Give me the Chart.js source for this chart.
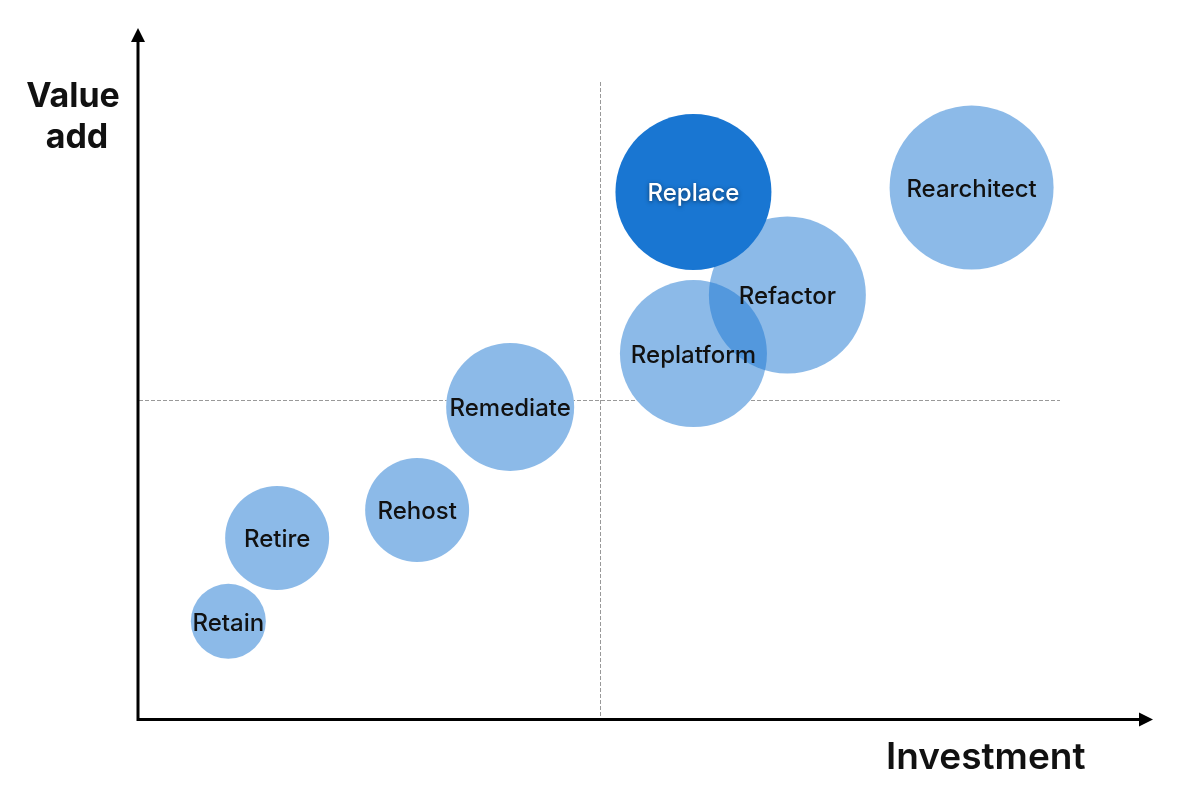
<!DOCTYPE html>
<html>
<head>
<meta charset="utf-8">
<script src="https://cdn.jsdelivr.net/npm/chart.js@4.4.0/dist/chart.umd.min.js"></script>
<style>
  html, body { margin: 0; padding: 0; background: #ffffff; }
  #wrap { width: 1200px; height: 800px; position: relative; }
</style>
</head>
<body>
<div id="wrap"><canvas id="c" width="1200" height="800"></canvas></div>
<script>
// ---- Data ----
const strategies = ['Retain', 'Retire', 'Rehost', 'Remediate', 'Replatform', 'Refactor', 'Replace', 'Rearchitect'];
const investment = [0.97, 1.50, 3.02, 4.03, 6.02, 7.04, 6.02, 9.04];
const valueAdd   = [1.52, 2.83, 3.27, 4.89, 5.73, 6.65, 8.27, 8.34];
const effort     = [37.5, 52, 52, 64, 73.5, 78.5, 78, 82];
const highlighted = ['Replace'];
const xAxisTitle = 'Investment';
const yAxisTitleLines = ['Value', 'add'];
const axisMin = 0, axisMax = 10, quadrantSplit = 5;

const points = strategies.map((s, i) => ({ x: investment[i], y: valueAdd[i], r: effort[i] }));
const LIGHT = 'rgba(25,118,210,0.5)';
const DARK = '#1976D2';

const decorPlugin = {
  id: 'decor',
  beforeDatasetsDraw(chart) {
    const { ctx, chartArea: a, scales } = chart;
    const mx = scales.x.getPixelForValue(quadrantSplit);
    const my = scales.y.getPixelForValue(quadrantSplit);
    ctx.save();
    ctx.strokeStyle = '#999999';
    ctx.lineWidth = 1;
    ctx.setLineDash([4, 2]);
    ctx.beginPath();
    ctx.moveTo(Math.round(mx) + 0.5, a.top);
    ctx.lineTo(Math.round(mx) + 0.5, a.bottom);
    ctx.moveTo(a.left, Math.round(my) + 0.5);
    ctx.lineTo(a.right, Math.round(my) + 0.5);
    ctx.stroke();
    ctx.restore();
  },
  afterDatasetsDraw(chart) {
    const { ctx, chartArea: a } = chart;
    ctx.save();
    // axes
    ctx.strokeStyle = '#000';
    ctx.fillStyle = '#000';
    ctx.lineWidth = 3;
    const ax = a.left - 1;
    const ay = a.bottom + 1.5;
    ctx.beginPath();
    ctx.moveTo(ax, ay + 1.5);
    ctx.lineTo(ax, a.top - 42);
    ctx.moveTo(ax - 1.5, ay);
    ctx.lineTo(a.right + 80, ay);
    ctx.stroke();
    // arrow heads
    ctx.beginPath();
    ctx.moveTo(ax, a.top - 54);
    ctx.lineTo(ax - 7, a.top - 40);
    ctx.lineTo(ax + 7, a.top - 40);
    ctx.closePath();
    ctx.fill();
    ctx.beginPath();
    ctx.moveTo(a.right + 93, ay);
    ctx.lineTo(a.right + 79, ay - 7);
    ctx.lineTo(a.right + 79, ay + 7);
    ctx.closePath();
    ctx.fill();

    // bubble labels
    const meta = chart.getDatasetMeta(1);
    ctx.textAlign = 'center';
    ctx.textBaseline = 'middle';
    ctx.font = '500 24px Inter, "Noto Sans", sans-serif';
    meta.data.forEach((el, i) => {
      const name = strategies[i];
      if (highlighted.includes(name)) {
        ctx.save();
        ctx.fillStyle = '#ffffff';
        ctx.shadowColor = 'rgba(0,0,0,0.55)';
        ctx.shadowBlur = 4;
        ctx.shadowOffsetY = 1;
        ctx.fillText(name, el.x, el.y + 2);
        ctx.restore();
      } else {
        ctx.fillStyle = '#111111';
        ctx.fillText(name, el.x, el.y + 2);
      }
    });

    // axis titles
    ctx.fillStyle = '#111111';
    ctx.font = '700 34px Inter, "Noto Sans", sans-serif';
    ctx.textBaseline = 'alphabetic';
    ctx.textAlign = 'center';
    ctx.fillText(yAxisTitleLines[0], 73, 107);
    ctx.fillText(yAxisTitleLines[1], 77, 148);
    ctx.textAlign = 'left';
    ctx.font = '600 37px Inter, "Noto Sans", sans-serif';
    ctx.fillText(xAxisTitle, 886, 769);
    ctx.restore();
  }
};

new Chart(document.getElementById('c'), {
  type: 'bubble',
  data: {
    datasets: [
      {
        label: 'underlay',
        data: points,
        order: 2,
        clip: false,
        backgroundColor: '#ffffff',
        borderWidth: 0,
        hoverRadius: 0
      },
      {
        label: 'strategies',
        data: points,
        order: 1,
        clip: false,
        backgroundColor: (c) => highlighted.includes(strategies[c.dataIndex]) ? DARK : LIGHT,
        borderWidth: 0,
        hoverRadius: 0
      }
    ]
  },
  options: {
    responsive: false,
    animation: false,
    events: [],
    layout: { padding: { left: 139, right: 140, top: 80, bottom: 80 } },
    plugins: { legend: { display: false }, tooltip: { enabled: false } },
    scales: {
      x: { type: 'linear', min: axisMin, max: axisMax, display: false },
      y: { type: 'linear', min: axisMin, max: axisMax, display: false }
    }
  },
  plugins: [decorPlugin]
});
</script>
</body>
</html>
